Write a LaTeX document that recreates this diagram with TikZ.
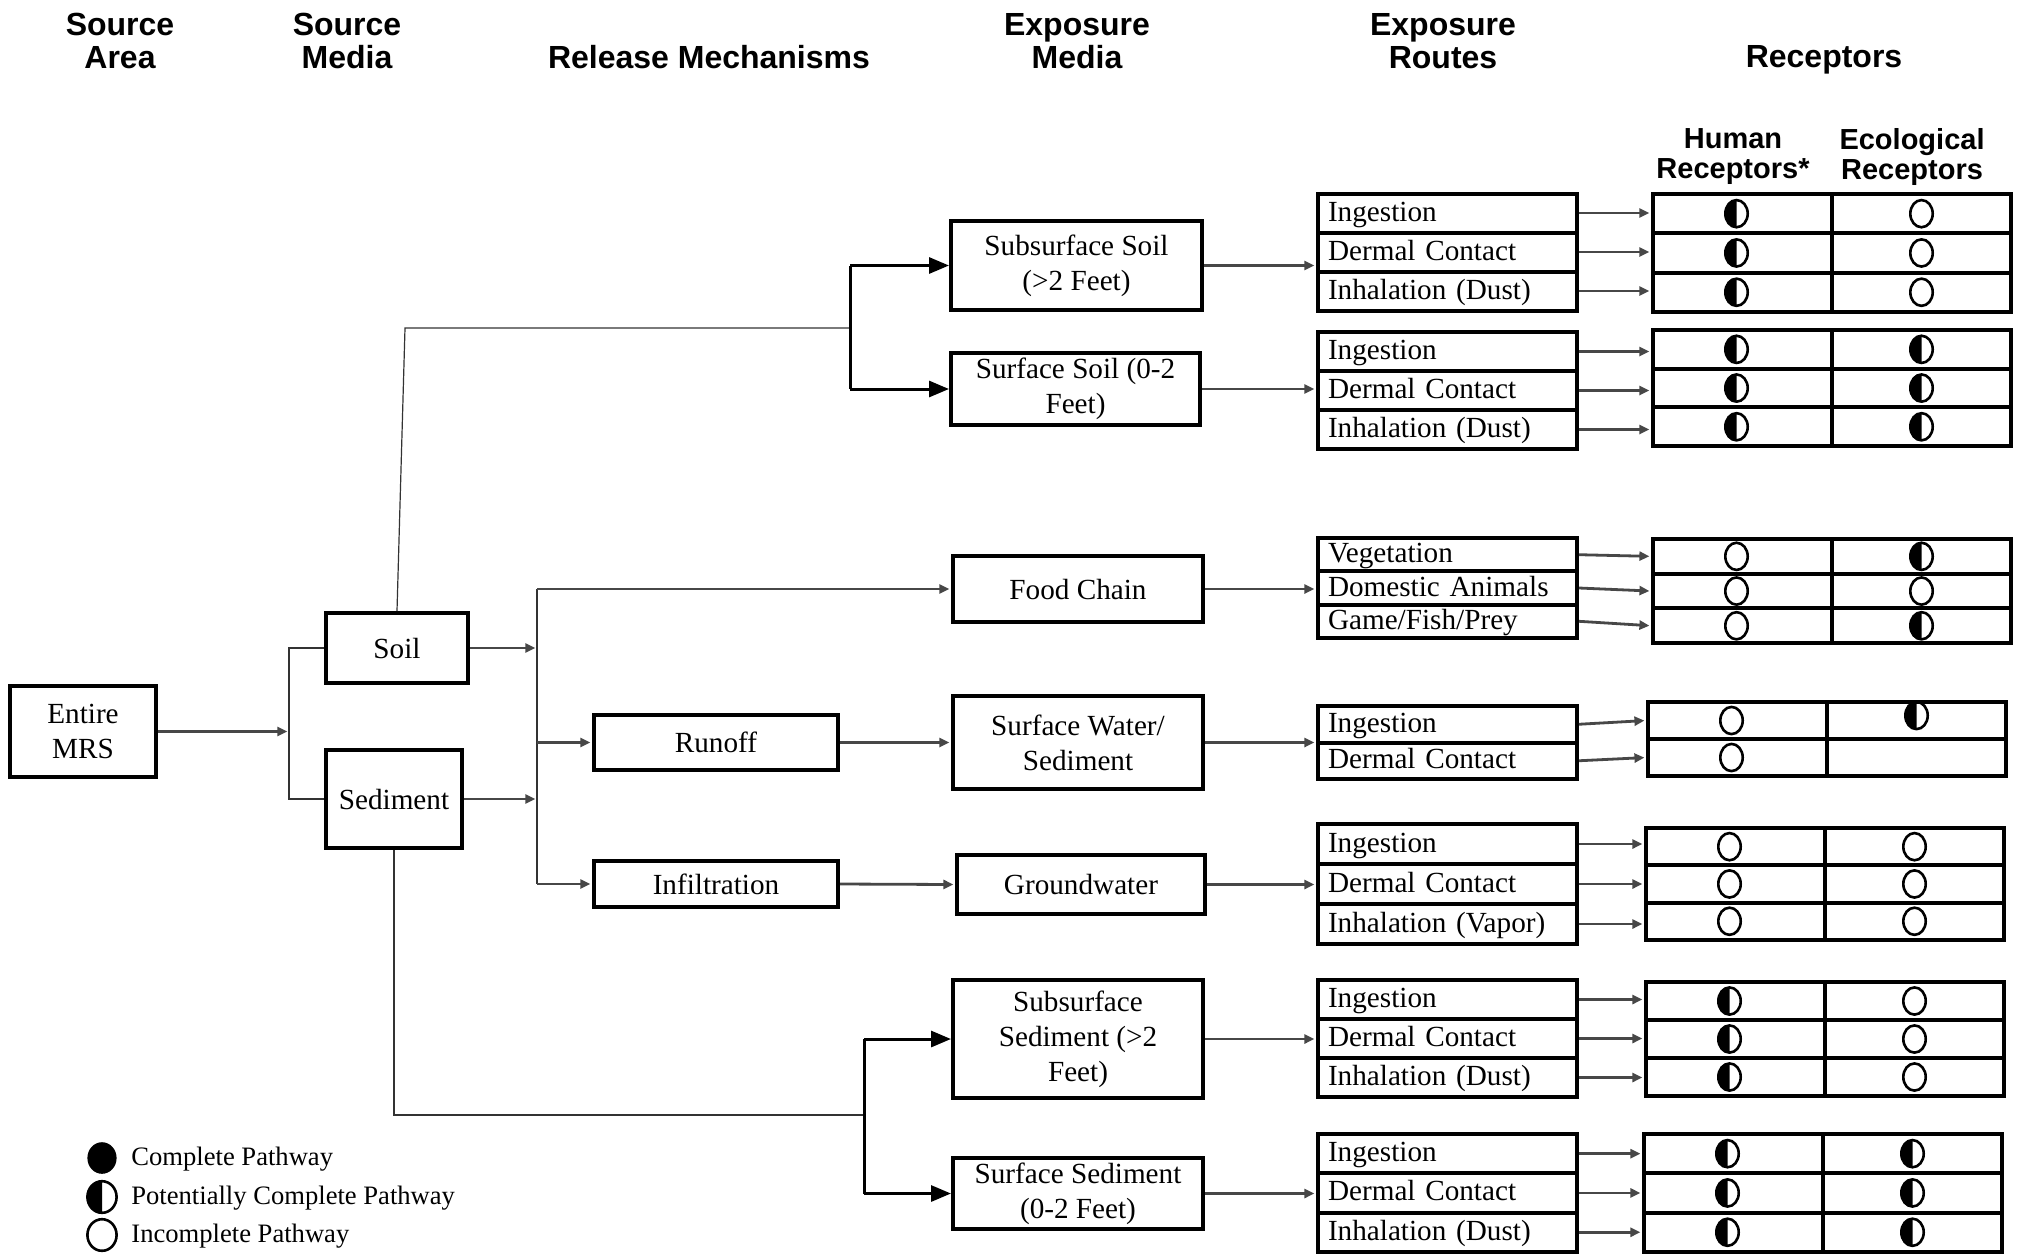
\documentclass[tikz,border=0pt]{standalone}
\usepackage{fontspec}
\setmainfont{Liberation Serif}
\newfontfamily\headfont{Liberation Sans}
\usetikzlibrary{arrows.meta}

% radii of the pathway marks
\def\mrx{5.6pt}
\def\mry{6.8pt}
\newcommand\markopen[1]{\draw[line width=1.3pt] (#1) ellipse [x radius=\mrx, y radius=\mry];}
\newcommand\markhalf[1]{%
  \fill (#1) ++(0pt,\mry) arc [start angle=90, end angle=270, x radius=\mrx, y radius=\mry] -- cycle;
  \draw[line width=1.3pt] (#1) ellipse [x radius=\mrx, y radius=\mry];}
\newcommand\markfull[1]{\fill (#1) ellipse [x radius=\mrx, y radius=\mry];}
\newcommand\marknone[1]{}
\newcommand\markhalfhi[1]{\markhalf{[yshift=2.5pt]#1.center}}

\tikzset{
  medbox/.style={draw, line width=2pt, align=center, inner sep=2pt,
    font=\fontsize{14.6}{17.5}\selectfont},
  rowbox/.style={draw, line width=2pt, text width=119.5pt, inner xsep=5pt, inner ysep=0pt,
    align=left, text height=11pt, text depth=3pt, font=\fontsize{14.6}{17.5}\selectfont},
  cell/.style={draw, line width=2pt, minimum width=89.5pt, inner sep=0pt},
  head/.style={font=\headfont\bfseries\fontsize{16}{16.5}\selectfont, align=center},
  subhead/.style={font=\headfont\bfseries\fontsize{14.5}{15}\selectfont, align=center},
  flow/.style={draw=black!72, line width=1.4pt, shorten >=0.8pt,
    -{Triangle[length=5pt,width=4.5pt]}},
  feed/.style={draw=black!80, line width=0.6pt},
  split/.style={draw, line width=1.5pt},
  splitarrow/.style={split, -{Triangle[length=10pt,width=8pt]}},
  legtext/.style={anchor=west, inner sep=0pt, font=\fontsize{13.3}{15}\selectfont},
}

% a stack of exposure-route rows: id, first row centre y, row pitch, labels
\newcommand\routes[4]{%
  \foreach \lab [count=\k] in {#4}
    \node[rowbox, minimum height=#3*0.5pt] (r#1-\k) at (1447.5,{#2+(\k-1)*#3}) {\lab};
}
% a receptor table: id, first row centre y, row pitch, human x, ecological x, marks
\newcommand\cells[6]{%
  \foreach \hs/\es [count=\k] in {#6} {
    \node[cell, minimum height=#3*0.5pt] (h#1-\k) at (#4,{#2+(\k-1)*#3}) {};
    \node[cell, minimum height=#3*0.5pt] (e#1-\k) at (#5,{#2+(\k-1)*#3}) {};
    \csname mark\hs\endcsname{[xshift=-3pt]h#1-\k.center}
    \csname mark\es\endcsname{e#1-\k}
  }
}
% level arrows from each route row into its table row
\newcommand\levelarrows[2]{%
  \foreach \k in {1,...,#2} \draw[flow] (r#1-\k.east) -- (r#1-\k.east -| h#1-\k.west);
}
% arrows from each route row straight to the centre of its table row
\newcommand\slantarrows[2]{%
  \foreach \k in {1,...,#2} \draw[flow] (r#1-\k.east) -- (h#1-\k.west);
}

\begin{document}
\begin{tikzpicture}[x=0.5pt,y=-0.5pt]
\useasboundingbox (0,0) rectangle (2028,1254);
\fill[white] (0,0) rectangle (2028,1254);

% column headings
\node[head] (hSA) at (120,41) {Source\\Area};
\node[head] (hSM) at (347,41) {Source\\Media};
\node[head] (hRM) at (709,57) {Release Mechanisms};
\node[head] (hEM) at (1077,41) {Exposure\\Media};
\node[head] (hER) at (1443,41) {Exposure\\Routes};
\node[head] (hRC) at (1824,60) {Receptors};
\node[subhead] (hHR) at (1733,157) {Human\\Receptors*};
\node[subhead] (hEC) at (1912,157) {Ecological\\Receptors};

% source, release and exposure media
\node[medbox, minimum width=73pt, minimum height=45.5pt] (mrs) at (83,731.5) {Entire\\MRS};
\node[medbox, minimum width=71pt, minimum height=35pt] (soil) at (397,648) {Soil};
\node[medbox, minimum width=68pt, minimum height=49pt] (sed) at (394,799) {Sediment};
\node[medbox, minimum width=122pt, minimum height=27.5pt] (runoff) at (716,742.5) {Runoff};
\node[medbox, minimum width=122pt, minimum height=23pt] (infil) at (716,884) {Infiltration};
\node[medbox, minimum width=125.5pt, minimum height=44.5pt] (subsoil) at (1076.5,265.5) {Subsurface Soil\\(>2 Feet)};
\node[medbox, minimum width=124.5pt, minimum height=36pt] (surfsoil) at (1075.5,389) {Surface Soil (0-2\\Feet)};
\node[medbox, minimum width=125pt, minimum height=33pt] (food) at (1078,589) {Food Chain};
\node[medbox, minimum width=125pt, minimum height=46.5pt] (swater) at (1078,742.5) {Surface Water/\\Sediment};
\node[medbox, minimum width=124pt, minimum height=29.5pt] (gw) at (1081,884.5) {Groundwater};
\node[medbox, minimum width=125pt, minimum height=59pt] (subsed) at (1078,1039) {Subsurface\\Sediment (>2\\Feet)};
\node[medbox, minimum width=125pt, minimum height=35.5pt] (surfsed) at (1078,1193.5) {Surface Sediment\\(0-2 Feet)};

% exposure routes
\routes{1}{213}{39}{Ingestion,Dermal Contact,Inhalation (Dust)}
\routes{2}{351.5}{39}{Ingestion,Dermal Contact,Inhalation (Dust)}
\routes{3}{554.7}{33.3}{Vegetation,Domestic Animals,{Game/Fish/Prey}}
\routes{4}{724.25}{36.5}{Ingestion,Dermal Contact}
\routes{5}{844}{40}{Ingestion,Dermal Contact,Inhalation (Vapor)}
\routes{6}{999.5}{39}{Ingestion,Dermal Contact,Inhalation (Dust)}
\routes{7}{1153.65}{39.3}{Ingestion,Dermal Contact,Inhalation (Dust)}

% receptor tables with pathway marks
\cells{1}{213.65}{39.3}{1742.5}{1921.5}{half/open,half/open,half/open}
\cells{2}{349.35}{38.7}{1742.5}{1921.5}{half/half,half/half,half/half}
\cells{3}{556.35}{34.7}{1742.5}{1921.5}{open/half,open/open,open/half}
\cells{4}{720.5}{37}{1737.5}{1916.5}{open/halfhi,open/none}
\cells{5}{846.65}{37.3}{1735.5}{1914.5}{open/open,open/open,open/open}
\cells{6}{1001}{38}{1735.5}{1914.5}{half/open,half/open,half/open}
\cells{7}{1153.65}{39.3}{1733.5}{1912.5}{half/half,half/half,half/half}

% exposure routes to receptors
\levelarrows{1}{3}
\levelarrows{2}{3}
\slantarrows{3}{3}
\slantarrows{4}{2}
\levelarrows{5}{3}
\levelarrows{6}{3}
\levelarrows{7}{3}

% source area to source media
\coordinate (j0) at (289,731.5);
\draw[flow] (mrs.east) -- (j0);
\draw[feed] (soil.west) -| (j0) |- (sed.west);

% source media to release mechanisms
\coordinate (s1) at (537,589);
\coordinate (s2) at (537,884);
\draw[flow] (soil.east) -- (soil.east -| s1);
\draw[flow] (sed.east) -- (sed.east -| s1);
\draw[feed] (s1) -- (s2);
\draw[flow] (s1) -- (food.west);
\draw[flow] (runoff.west -| s1) -- (runoff.west);
\draw[flow] (s2) -- (infil.west);
\draw[flow] (runoff.east) -- (swater.west);
\draw[flow] (infil.east) -- (gw.west);

% soil split into subsurface and surface soil
\coordinate (bend1) at (405,328);
\coordinate (bj) at (850,328);
\coordinate (b1) at (850,265.5);
\coordinate (b2) at (850,389);
\draw[feed] (soil.north) -- (bend1) -- (bj);
\draw[split] (b1) -- (b2);
\draw[splitarrow] (b1) -- (subsoil.west);
\draw[splitarrow] (b2) -- (surfsoil.west);

% sediment split into subsurface and surface sediment
\coordinate (cj) at (864,1115);
\coordinate (c1) at (864,1039);
\coordinate (c2) at (864,1193.5);
\draw[feed] (sed.south) |- (cj);
\draw[split] (c1) -- (c2);
\draw[splitarrow] (c1) -- (subsed.west);
\draw[splitarrow] (c2) -- (surfsed.west);

% exposure media to exposure routes
\draw[flow] (subsoil.east) -- (subsoil.east -| r1-1.west);
\draw[flow] (surfsoil.east) -- (surfsoil.east -| r2-1.west);
\draw[flow] (food.east) -- (food.east -| r3-1.west);
\draw[flow] (swater.east) -- (swater.east -| r4-1.west);
\draw[flow] (gw.east) -- (gw.east -| r5-1.west);
\draw[flow] (subsed.east) -- (subsed.east -| r6-1.west);
\draw[flow] (surfsed.east) -- (surfsed.east -| r7-1.west);

% legend
\begin{scope}
  \def\mrx{7.3pt}\def\mry{7.9pt}
  \coordinate (lg1) at (102,1158);
  \coordinate (lg2) at (102,1197);
  \coordinate (lg3) at (102,1235);
  \markfull{lg1}
  \markhalf{lg2}
  \markopen{lg3}
\end{scope}
\node[legtext] (lt1) at (131,1159) {Complete Pathway};
\node[legtext] (lt2) at (131,1198) {Potentially Complete Pathway};
\node[legtext] (lt3) at (131,1236) {Incomplete Pathway};
\end{tikzpicture}
\end{document}
